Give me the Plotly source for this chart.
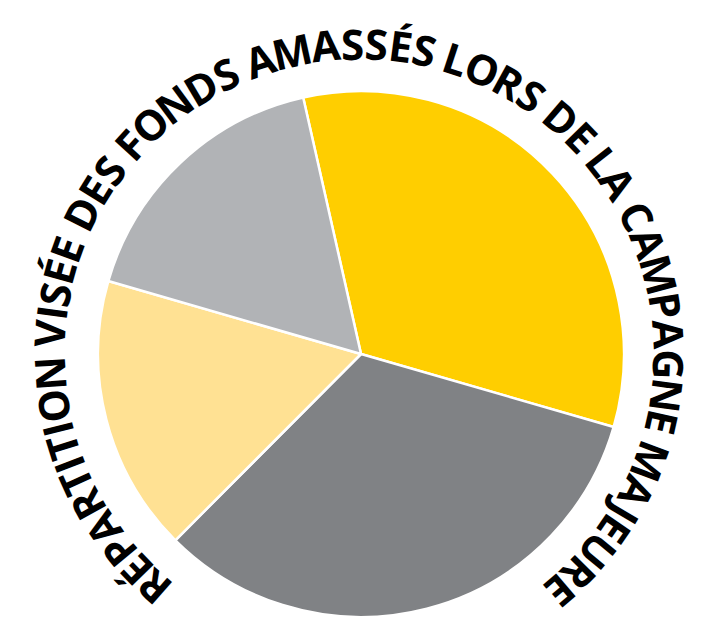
import math
import plotly.graph_objects as go

# ---- data ----
labels = ["Part 1", "Part 2", "Part 3", "Part 4"]
values = [33, 33, 17, 17]
colors = ["#FFCE00", "#808285", "#FFE193", "#B1B3B6"]
title_text = "RÉPARTITION VISÉE DES FONDS AMASSÉS LORS DE LA CAMPAGNE MAJEURE"

# ---- layout helpers ----
PAGE_OFF = 8                      # default body margin of the html page
W_PX, H_PX = 702 - PAGE_OFF, 624 - PAGE_OFF
PIE_CX, PIE_CY, PIE_R = 361 - PAGE_OFF, 354 - PAGE_OFF, 263
TXT_CX, TXT_CY, TXT_R = 359 - PAGE_OFF, 354 - PAGE_OFF, 311
START_DEG, END_DEG = 221.3, 499.6
FONT_SIZE = 42

# approximate relative advance widths (em) of the reference's typeface
ADV = {'A': 0.64, 'C': 0.58, 'D': 0.68, 'E': 0.50, 'É': 0.50, 'F': 0.48,
       'G': 0.67, 'I': 0.28, 'J': 0.37, 'L': 0.47, 'M': 0.80, 'N': 0.68,
       'O': 0.71, 'P': 0.57, 'R': 0.58, 'S': 0.52, 'T': 0.52, 'U': 0.67,
       'V': 0.62, ' ': 0.22}

fig = go.Figure(go.Pie(
    labels=labels,
    values=values,
    sort=False,
    direction="clockwise",
    rotation=-12.7,
    marker=dict(colors=colors, line=dict(color="white", width=2.5)),
    textinfo="none",
    hoverinfo="label+percent",
    showlegend=False,
    domain=dict(
        x=[(PIE_CX - PIE_R) / W_PX, (PIE_CX + PIE_R) / W_PX],
        y=[(H_PX - PIE_CY - PIE_R) / H_PX, (H_PX - PIE_CY + PIE_R) / H_PX],
    ),
))

# characters placed along a circular arc
widths = [ADV.get(ch, 0.55) for ch in title_text]
centers = []
acc = 0.0
for w in widths:
    centers.append(acc + w / 2)
    acc += w
c0, c1 = centers[0], centers[-1]
annotations = []
for ch, c in zip(title_text, centers):
    if ch == " ":
        continue
    theta = START_DEG + (c - c0) / (c1 - c0) * (END_DEG - START_DEG)
    t = math.radians(theta)
    px = TXT_CX + TXT_R * math.sin(t)
    py = TXT_CY - TXT_R * math.cos(t)
    ang = ((theta + 180) % 360) - 180
    annotations.append(dict(
        text=ch, x=px / W_PX, y=1 - py / H_PX, xref="paper", yref="paper",
        xanchor="center", yanchor="middle", showarrow=False, textangle=ang,
        font=dict(family="Open Sans, sans-serif",
                  size=FONT_SIZE, color="black", weight="bold"),
    ))

fig.update_layout(
    width=W_PX, height=H_PX,
    margin=dict(l=0, r=0, t=0, b=0),
    paper_bgcolor="white", plot_bgcolor="white",
    annotations=annotations,
)

fig.write_html("out.html")
